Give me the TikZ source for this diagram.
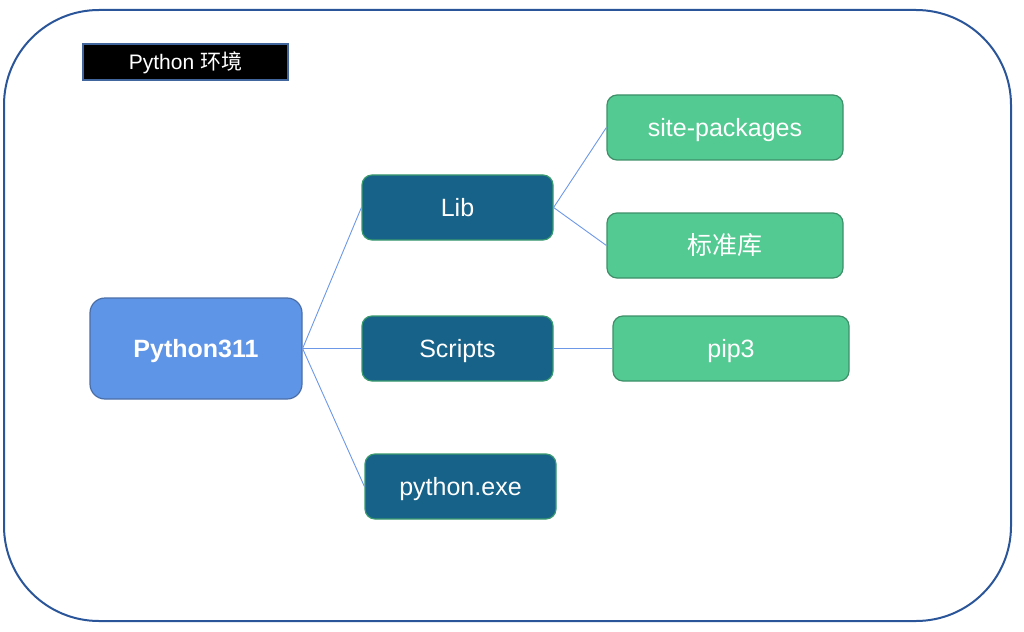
\documentclass[tikz,border=0pt]{standalone}
\usepackage{fontspec}
\setmainfont{Liberation Sans}
\newfontfamily\cjk{Noto Sans CJK SC}
\definecolor{frame}{HTML}{2A5599}
\definecolor{rootfill}{HTML}{5F95E6}
\definecolor{rootdraw}{HTML}{4A6EA8}
\definecolor{midfill}{HTML}{166289}
\definecolor{middraw}{HTML}{3A9A6F}
\definecolor{leaffill}{HTML}{54CA93}
\definecolor{leafdraw}{HTML}{3D9068}
\definecolor{link}{HTML}{6D98E8}
\definecolor{tagdraw}{HTML}{41669E}
\tikzset{
  box/.style={rectangle, rounded corners=10, line width=1.2, text=white, font=\fontsize{25}{30}\selectfont, inner sep=0, text height=18, text depth=0},
  rootbox/.style={box, fill=rootfill, draw=rootdraw, rounded corners=15, minimum width=212, minimum height=101, font=\fontsize{25}{30}\selectfont\bfseries},
  midbox/.style={box, fill=midfill, draw=middraw, minimum width=191, minimum height=65},
  leafbox/.style={box, fill=leaffill, draw=leafdraw, minimum width=236, minimum height=65},
  tag/.style={rectangle, fill=black, draw=tagdraw, line width=1.5, text=white, minimum width=205, minimum height=36, inner sep=0, text height=15, text depth=0, font=\fontsize{21}{25}\selectfont},
  link/.style={draw=link, line width=0.9}
}
\begin{document}
\begin{tikzpicture}[x=1pt,y=-1pt]
\useasboundingbox (0,0) rectangle (1024,631);
\draw[frame, line width=2, rounded corners=95] (4,10) rectangle (1011,621);
\node[tag] (tag) at (185.5,62) {Python {\cjk 环境}};
\node[rootbox] (root) at (196,348.5) {Python311};
\node[midbox] (lib) at (457.5,207.5) {Lib};
\node[midbox] (scripts) at (457.5,348.5) {Scripts};
\node[midbox] (exe) at (460.5,486.5) {python.exe};
\node[leafbox] (site) at (725,127.5) {site-packages};
\node[leafbox] (std) at (725,245.5) {\cjk 标准库};
\node[leafbox] (pip) at (731,348.5) {pip3};
\draw[link] (root.east) -- (lib.west);
\draw[link] (root.east) -- (scripts.west);
\draw[link] (root.east) -- (exe.west);
\draw[link] (lib.east) -- (site.west);
\draw[link] (lib.east) -- (std.west);
\draw[link] (scripts.east) -- (pip.west);
\end{tikzpicture}
\end{document}
